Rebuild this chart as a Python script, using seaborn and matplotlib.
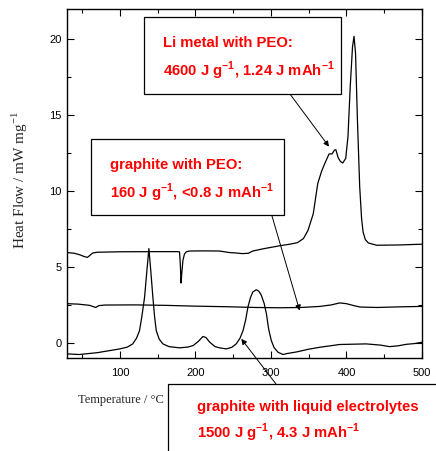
import numpy as np
import pandas as pd
import matplotlib
matplotlib.use("Agg")
import matplotlib.pyplot as plt
import seaborn as sns
from matplotlib.patches import Rectangle

# ---------------- data ----------------
li_temp = [30, 40, 47, 52, 57, 60, 64, 70, 100, 150, 176, 179, 180, 181, 182, 183.5, 185.5, 188,
           192, 210, 232, 245, 254, 262, 270, 276, 290, 312, 325, 335, 343, 349, 356, 362, 367,
           372, 377, 381, 384, 386, 389, 392, 395, 399, 402, 405, 408, 410, 412, 414.5, 417.5,
           420, 422, 425, 429, 440, 470, 500]
li_heat = [5.95, 5.9, 5.8, 5.7, 5.63, 5.75, 5.92, 5.97, 6.0, 6.01, 6.01, 5.99, 5.2, 3.94, 4.6,
           5.44, 5.85, 6.0, 6.05, 6.06, 6.05, 5.95, 5.92, 5.88, 5.9, 6.05, 6.2, 6.4, 6.5, 6.6,
           6.87, 7.4, 8.5, 10.5, 11.3, 11.9, 12.45, 12.45, 12.7, 12.72, 12.2, 11.95, 11.85,
           12.15, 13.6, 16.9, 19.5, 20.2, 19.1, 14.7, 10.3, 8.2, 7.3, 6.8, 6.58, 6.43, 6.45, 6.5]

gp_temp = [30, 45, 60, 65, 68, 72, 80, 120, 160, 197, 240, 280, 311, 340, 365, 380, 391, 400,
           410, 418, 440, 470, 500]
gp_heat = [2.58, 2.55, 2.47, 2.38, 2.33, 2.45, 2.49, 2.5, 2.47, 2.42, 2.38, 2.33, 2.31, 2.33,
           2.4, 2.5, 2.63, 2.58, 2.45, 2.36, 2.33, 2.37, 2.4]

gl_temp = [30, 46, 70, 100, 110, 117, 122, 126, 129, 132.7, 135.5, 138.4, 141, 143.7, 146,
           148.2, 152, 157, 165, 179, 190, 197, 204, 210, 214, 219, 226, 232, 241, 248, 254, 259,
           263, 266.5, 269.5, 273, 276, 280.6, 284, 287.3, 291, 294, 297, 300.5, 304, 309.3,
           316, 322, 334, 350, 365, 391, 426, 445, 457, 468, 479, 490, 500]
gl_heat = [-0.73, -0.77, -0.65, -0.4, -0.28, -0.07, 0.3, 0.8, 1.7, 3.0, 4.6, 6.21, 4.7, 3.0,
           1.7, 0.8, 0.25, -0.07, -0.25, -0.33, -0.28, -0.18, 0.1, 0.42, 0.35, 0.04, -0.25,
           -0.33, -0.4, -0.3, -0.07, 0.3, 0.8, 1.5, 2.35, 3.0, 3.35, 3.5, 3.4, 3.13, 2.6, 1.92,
           0.9, 0.15, -0.3, -0.62, -0.77, -0.7, -0.6, -0.42, -0.29, -0.11, -0.07, -0.15, -0.25,
           -0.2, -0.1, -0.05, 0.04]

x_ticks = [100, 200, 300, 400, 500]
y_ticks = [0, 5, 10, 15, 20]

x_label = "Temperature / °C"
y_label = "Heat Flow / mW mg$^{\\mathregular{-1}}$"

box_li = ["Li metal with PEO:", "4600 J g$^{\\mathregular{-1}}$, 1.24 J mAh$^{\\mathregular{-1}}$"]
box_gp = ["graphite with PEO:", "160 J g$^{\\mathregular{-1}}$, <0.8 J mAh$^{\\mathregular{-1}}$"]
box_gl = ["graphite with liquid electrolytes", "1500 J g$^{\\mathregular{-1}}$, 4.3 J mAh$^{\\mathregular{-1}}$"]

# arrow tips (data coordinates)
tip_li = (376.9, 12.93)
tip_gp = (338.0, 2.13)
tip_gl = (260.8, 0.26)

# ---------------- styling ----------------
sns.set_theme(style="ticks")
plt.rcParams.update({
    "font.family": ["Liberation Sans", "DejaVu Sans"],
    "xtick.direction": "in",
    "ytick.direction": "in",
    "xtick.top": True,
    "ytick.right": True,
    "axes.linewidth": 1.0,
    "axes.edgecolor": "black",
    "xtick.color": "black",
    "ytick.color": "black",
})

W, H = 436, 451
fig = plt.figure(figsize=(W / 100, H / 100), dpi=100)
fig.patch.set_facecolor("white")


def fx(px):
    return px / W


def fy(py):
    return 1 - py / H


ax = fig.add_axes([fx(67), fy(358), (422 - 67) / W, (358 - 9) / H])

df = pd.concat([
    pd.DataFrame({"T": li_temp, "HF": li_heat, "series": "li"}),
    pd.DataFrame({"T": gp_temp, "HF": gp_heat, "series": "gp"}),
    pd.DataFrame({"T": gl_temp, "HF": gl_heat, "series": "gl"}),
])
sns.lineplot(data=df, x="T", y="HF", units="series", estimator=None, sort=False,
             color="black", lw=0.9, legend=False, ax=ax)

ax.set_xlim(30, 500)
ax.set_ylim(-1, 22)
ax.set_xticks(x_ticks)
ax.set_yticks(y_ticks)
ax.set_xticks(np.arange(50, 501, 50), minor=True)
ax.set_yticks(np.arange(0, 22, 2.5), minor=True)
ax.tick_params(which="major", length=5, width=0.8, labelsize=8)
ax.tick_params(which="minor", length=3, width=0.8)
ax.tick_params(axis="x", which="major", pad=7)
ax.tick_params(axis="y", which="major", pad=4)
for lab in ax.get_xticklabels() + ax.get_yticklabels():
    lab.set_fontfamily(["Liberation Sans", "DejaVu Sans"])

ax.set_ylabel(y_label, fontsize=11, family=["Liberation Serif", "DejaVu Serif"])
ax.yaxis.set_label_coords(-0.105, 0.51)
ax.set_xlabel(x_label, fontsize=9, family=["Liberation Serif", "DejaVu Serif"], ha="left", va="center")
ax.xaxis.set_label_coords((78 - 67) / (422 - 67), -(400 - 358) / (358 - 9))

# ---------------- annotation boxes ----------------
def add_box(x0, y0, x1, y1):
    r = Rectangle((fx(x0), fy(y1)), fx(x1) - fx(x0), fy(y0) - fy(y1), transform=fig.transFigure,
                  facecolor="white", edgecolor="black", lw=0.9, zorder=5, clip_on=False)
    fig.add_artist(r)


tfont = dict(family=["Liberation Sans", "DejaVu Sans"],
             weight="bold", color="#ff0000", fontsize=10.7, zorder=7)

add_box(144, 17.3, 341.3, 94.3)
fig.text(fx(163), fy(47), box_li[0], va="baseline", ha="left", **tfont)
fig.text(fx(163), fy(76), box_li[1], va="baseline", ha="left", **tfont)

add_box(90.7, 139.3, 283.7, 215)
fig.text(fx(110), fy(169.5), box_gp[0], va="baseline", ha="left", **tfont)
fig.text(fx(110), fy(198), box_gp[1], va="baseline", ha="left", **tfont)

add_box(168.3, 384, 445, 460)
fig.text(fx(196.7), fy(411), box_gl[0], va="baseline", ha="left", **tfont)
fig.text(fx(196.7), fy(438.5), box_gl[1], va="baseline", ha="left", **tfont)

aprops = dict(arrowstyle="-|>", lw=0.7, color="black", mutation_scale=8,
              shrinkA=0, shrinkB=0)
for tip, tail in [(tip_li, (284, 86)), (tip_gp, (271.7, 215)), (tip_gl, (276, 384))]:
    a = ax.annotate("", xy=tip, xycoords="data", xytext=(fx(tail[0]), fy(tail[1])),
                    textcoords="figure fraction", arrowprops=aprops, annotation_clip=False)
    a.set_zorder(8)

fig.savefig("out.png", dpi=100, facecolor="white")
